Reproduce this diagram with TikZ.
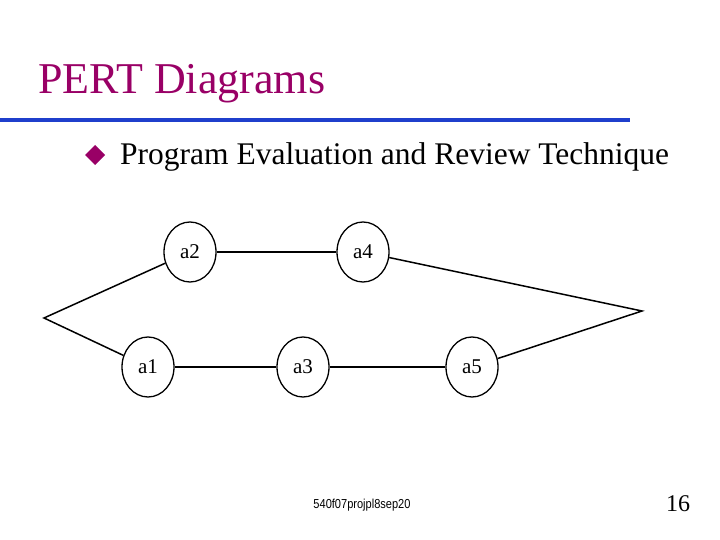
\documentclass[tikz,border=0pt]{standalone}
\usepackage{fontspec}
\setmainfont{Liberation Serif}
\setsansfont{Liberation Sans}
\usetikzlibrary{shapes.geometric}
\definecolor{titlemag}{HTML}{990066}
\definecolor{rulerblue}{HTML}{1F3FCC}

\begin{document}
\begin{tikzpicture}[x=1pt,y=-1pt]
  % Styles
  \tikzset{
    event/.style={draw, line width=1.3pt, ellipse, minimum width=52pt, minimum height=60pt, inner sep=0pt, font=\fontsize{21}{21}\selectfont},
    link/.style={line width=1.5pt},
  }
  \useasboundingbox (0,0) rectangle (720,540);

  % Heading
  \node[anchor=base west, text=titlemag, inner sep=0pt, font=\fontsize{44}{44}\selectfont] (title) at (38,94) {PERT Diagrams};
  \fill[rulerblue] (0,118) rectangle (630,122);
  \fill[titlemag] (95,145) -- (105,155) -- (95,165) -- (85,155) -- cycle;
  \node[anchor=base west, inner sep=0pt, font=\fontsize{31.5}{31.5}\selectfont] (sub) at (120,165) {Program Evaluation and Review Technique};

  % Events
  \node[event] (a1) at (148,367) {a1};
  \node[event] (a2) at (190,252) {a2};
  \node[event] (a3) at (303,367) {a3};
  \node[event] (a4) at (363,252) {a4};
  \node[event] (a5) at (472,367) {a5};
  \coordinate (start) at (44,318);
  \coordinate (finish) at (642,311);

  % Links
  \draw[link] (a2) -- (start) -- (a1);
  \draw[link] (a1) -- (a3);
  \draw[link] (a3) -- (a5);
  \draw[link] (a2) -- (a4);
  \draw[link] (a4) -- (finish) -- (a5);

  % Footer
  \node[font=\sffamily\fontsize{13}{13}\selectfont, xscale=0.85] (foot) at (362,505) {540f07projpl8sep20};
  \node[font=\fontsize{24}{24}\selectfont] (page) at (678,504) {16};
\end{tikzpicture}
\end{document}
